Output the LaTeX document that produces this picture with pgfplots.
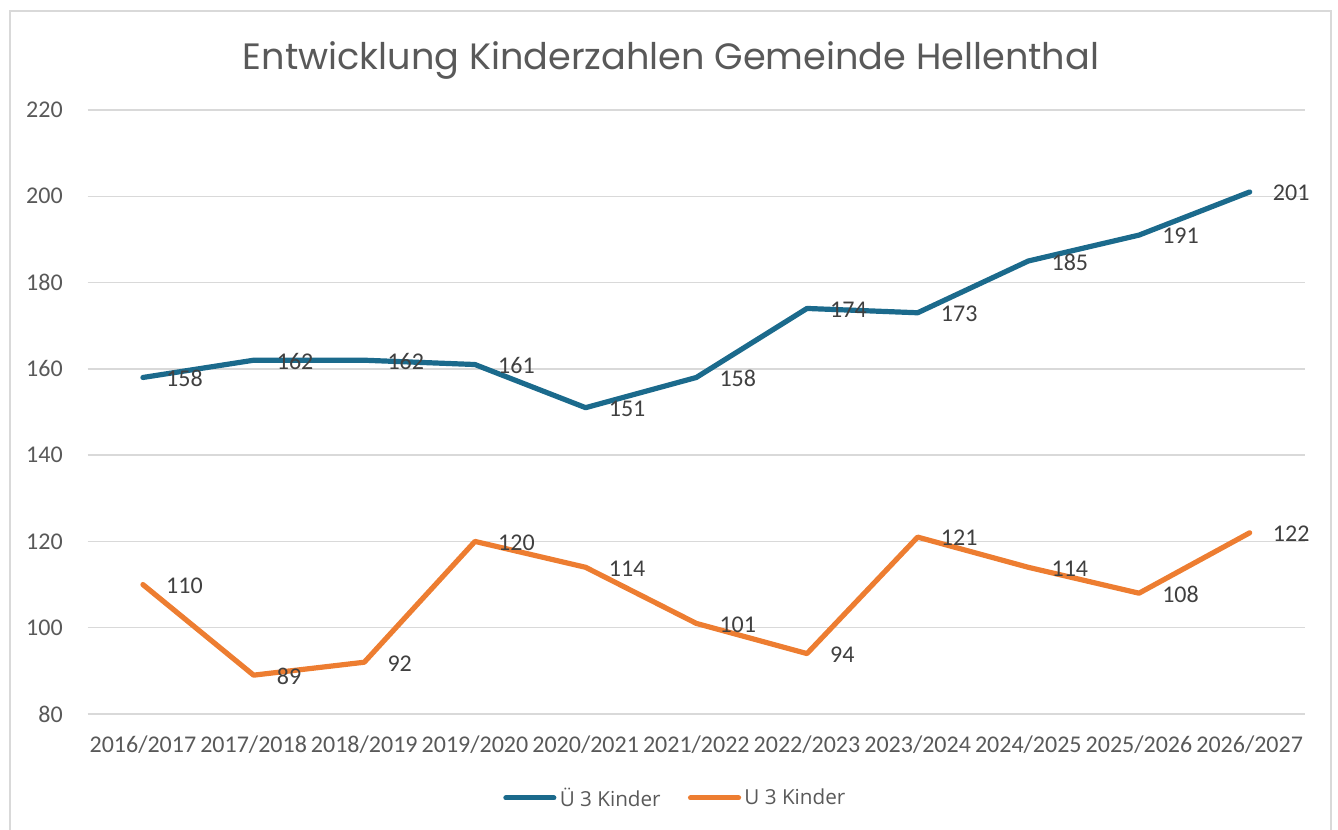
\documentclass[border=0pt]{standalone}
\usepackage{pgfplots}
\pgfplotsset{compat=1.18}
\usepackage{fontspec}
\setmainfont{Carlito}
\newfontfamily\titlefont{Poppins}
\newfontfamily\legfont{Open Sans}
\definecolor{ublue}{HTML}{1B6A8C}
\definecolor{uorange}{HTML}{ED7D31}
\definecolor{txt}{HTML}{595959}
\definecolor{lbl}{HTML}{404040}
\definecolor{gridc}{HTML}{D9D9D9}
\begin{document}
\begin{tikzpicture}[x=0.75pt,y=0.75pt]
\clip (0,0) rectangle (1338,830);
\path[use as bounding box] (0,0) rectangle (1338,830);
\draw[gridc, line width=1.1pt] (10,-5) rectangle (1331,819);
\node[anchor=base, text=txt, font=\titlefont\fontsize{27.5}{32}\selectfont] at (671,760) {Entwicklung Kinderzahlen Gemeinde Hellenthal};
\begin{axis}[
  at={(65.7pt,87pt)}, anchor=south west,
  scale only axis, width=913.05pt, height=453pt,
  xmin=-0.5, xmax=10.5, ymin=80, ymax=220,
  ytick={80,100,...,220},
  xtick={0,...,10},
  xticklabels={2016/2017,2017/2018,2018/2019,2019/2020,2020/2021,2021/2022,2022/2023,2023/2024,2024/2025,2025/2026,2026/2027},
  axis line style={draw=none},
  tick style={draw=none},
  ymajorgrids,
  grid style={gridc, line width=1.1pt},
  /pgf/number format/assume math mode=true,
  ticklabel style={font=\fontsize{18}{20}\selectfont, text=txt},
  yticklabel style={anchor=east, inner sep=0pt, xshift=-18.5pt},
  xticklabel style={anchor=base, inner sep=0pt, yshift=-28.9pt},
  clip=false,
  nodes near coords,
  every node near coord/.append style={anchor=west, inner sep=0pt, xshift=15.5pt, yshift=-0.8pt, font=\fontsize{18}{20}\selectfont, text=lbl},
  legend style={at={(0.4833,-0.139)}, anchor=center, draw=none, fill=none,
    legend columns=2, font=\legfont\fontsize{15.5}{18}\selectfont, text=txt,
    nodes={inner sep=2.5pt},
    /tikz/every even column/.append style={column sep=18pt}},
  legend image code/.code={\draw[#1, line width=3.75pt, line cap=round] (1.9pt,0pt) -- (38pt,0pt);},
]
\addplot[ublue, line width=3.9pt, line join=round, line cap=round] coordinates {
(0,158) (1,162) (2,162) (3,161) (4,151) (5,158) (6,174) (7,173) (8,185) (9,191) (10,201)};
\addlegendentry{Ü 3 Kinder}
\addplot[uorange, line width=3.9pt, line join=round, line cap=round] coordinates {
(0,110) (1,89) (2,92) (3,120) (4,114) (5,101) (6,94) (7,121) (8,114) (9,108) (10,122)};
\addlegendentry{U 3 Kinder}
\end{axis}
\end{tikzpicture}
\end{document}
